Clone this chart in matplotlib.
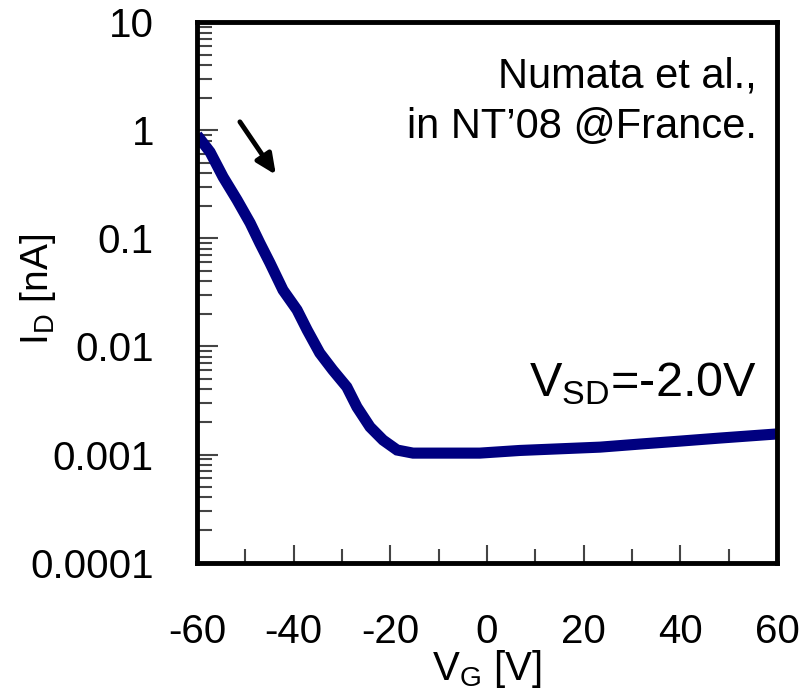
import numpy as np
import matplotlib
matplotlib.use("Agg")
import matplotlib.pyplot as plt
from matplotlib.ticker import FixedLocator, FixedFormatter, MultipleLocator, LogLocator, NullFormatter

plt.rcParams['font.family'] = ['Liberation Sans', 'DejaVu Sans']

# gate voltage [V] and drain current [nA]
vg = [-60.0, -57.3, -54.6, -51.7, -49.0, -47.0, -44.9, -42.2, -39.3, -37.2,
      -34.6, -31.9, -29.0, -26.9, -24.2, -21.5, -18.6, -15.3, -9.7, -1.5,
      6.8, 23.4, 31.7, 39.9, 48.2, 60.0]
i_d = [0.908, 0.632, 0.371, 0.227, 0.139, 0.0908, 0.0593, 0.0333, 0.0218, 0.0142,
       0.00871, 0.00605, 0.00422, 0.00275, 0.00180, 0.00136, 0.00110, 0.00103, 0.00103, 0.00103,
       0.00109, 0.00117, 0.00125, 0.00133, 0.00142, 0.00155]

yticks = [1e-4, 1e-3, 1e-2, 1e-1, 1, 10]
ytick_labels = ["0.0001", "0.001", "0.01", "0.1", "1", "10"]
xticks = [-60, -40, -20, 0, 20, 40, 60]
xtick_labels = ["-60", "-40", "-20", "0", "20", "40", "60"]

fig = plt.figure(figsize=(8.11, 6.96), dpi=100)
ax = fig.add_axes([0.2429, 0.1918, 0.7151, 0.7759])

ax.plot(vg, i_d, color='#000080', lw=8, solid_joinstyle='miter', solid_capstyle='butt')

ax.set_yscale('log')
ax.set_xlim(-60, 60)
ax.set_ylim(1e-4, 10)

ax.yaxis.set_major_locator(FixedLocator(yticks))
ax.yaxis.set_major_formatter(FixedFormatter(ytick_labels))
ax.yaxis.set_minor_locator(LogLocator(base=10, subs=np.arange(2, 10)))
ax.yaxis.set_minor_formatter(NullFormatter())
ax.xaxis.set_major_locator(FixedLocator(xticks))
ax.xaxis.set_major_formatter(FixedFormatter(xtick_labels))
ax.xaxis.set_minor_locator(MultipleLocator(10))

for s in ax.spines.values():
    s.set_linewidth(3.5)

ax.tick_params(axis='both', which='both', direction='in', top=False, right=False, labelsize=29)
ax.tick_params(axis='y', which='major', length=15, width=1.5, color='#444444', pad=31)
ax.tick_params(axis='y', which='minor', length=11, width=1.5, color='#444444')
ax.tick_params(axis='x', which='major', length=13, width=1.5, color='#444444', pad=36)
ax.tick_params(axis='x', which='minor', length=10, width=1.5, color='#444444')

ax.set_xlabel(r'V$_\mathregular{G}$ [V]', fontsize=29)
ax.xaxis.set_label_coords(0.5, -0.158)
ax.set_ylabel(r'I$_\mathregular{D}$ [nA]', fontsize=28)
ax.yaxis.set_label_coords(-0.24, 0.505)

ax.text(0.965, 0.879, "Numata et al.,", transform=ax.transAxes,
        ha='right', va='baseline', fontsize=30)
ax.text(0.965, 0.786, "in NT\u201908 @France.", transform=ax.transAxes,
        ha='right', va='baseline', fontsize=30)
ax.text(0.965, 0.3065, r'V$_\mathregular{SD}$=-2.0V', transform=ax.transAxes,
        ha='right', va='baseline', fontsize=35)

ax.annotate("", xy=(0.136, 0.718), xytext=(0.074, 0.816), xycoords='axes fraction',
            arrowprops=dict(arrowstyle='-|>,head_length=1.2,head_width=0.55', lw=3.5,
                            color='black', shrinkA=0, shrinkB=0))

fig.savefig("out.png", dpi=100)
